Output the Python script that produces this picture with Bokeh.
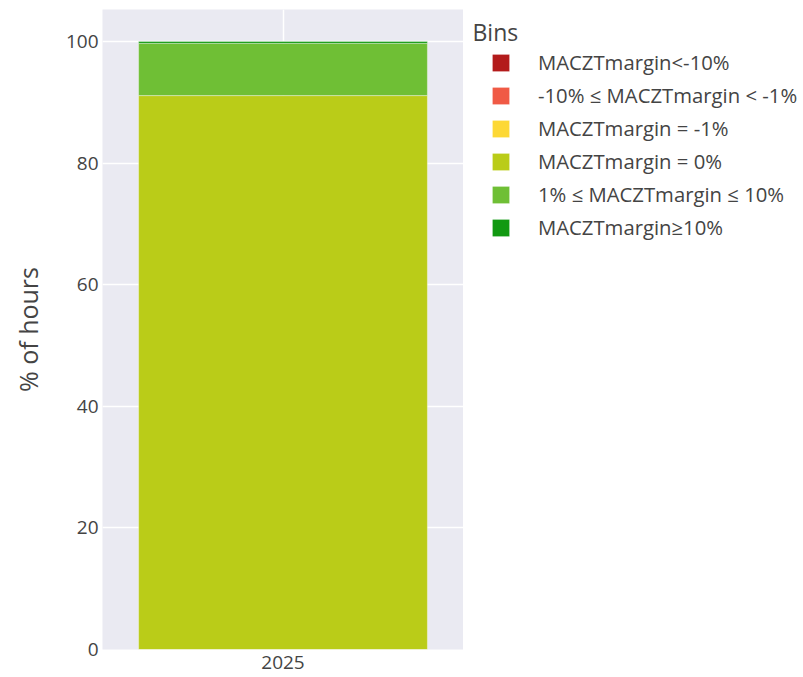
from bokeh.plotting import figure
from bokeh.layouts import row
from bokeh.models import Range1d, FactorRange, FixedTicker, Legend, LegendItem, Label
from bokeh.embed import file_html
from bokeh.resources import INLINE

years = ["2025"]
bins = [
    "MACZTmargin<-10%",
    "-10% ≤ MACZTmargin < -1%",
    "MACZTmargin = -1%",
    "MACZTmargin = 0%",
    "1% ≤ MACZTmargin ≤ 10%",
    "MACZTmargin≥10%",
]
values = [0.0, 0.0, 0.0, 91.1, 8.6, 0.3]
colors = ["#B31B1B", "#F05A45", "#FDD835", "#BACC18", "#6FBF35", "#119911"]
y_ticks = [0, 20, 40, 60, 80, 100]

FONT = "Open Sans"
TXT = "#444444"
H = 676

data = {"year": years}
keys = []
for i, v in enumerate(values):
    k = f"b{i}"
    keys.append(k)
    data[k] = [v]

p = figure(
    x_range=FactorRange(*years, range_padding=0),
    y_range=Range1d(0, 105.26),
    width=463, height=H,
    min_border_left=102, min_border_top=9, min_border_right=0, min_border_bottom=27,
    output_backend="svg", toolbar_location=None,
    background_fill_color="#EAEAF2", border_fill_color="white",
)
p.outline_line_color = None

renderers = p.vbar_stack(keys, x="year", width=0.8, source=data, color=colors,
                         line_color="white", line_width=0.6, line_alpha=0.6)

p.grid.grid_line_color = "white"
p.grid.grid_line_width = 1.5
p.yaxis.ticker = FixedTicker(ticks=y_ticks)
for ax in [p.xaxis[0], p.yaxis[0]]:
    ax.axis_line_color = None
    ax.major_tick_line_color = None
    ax.minor_tick_line_color = None
    ax.major_tick_out = 0
    ax.major_tick_in = 0
    ax.minor_tick_out = 0
    ax.major_label_text_font = FONT
    ax.major_label_text_font_size = "19px"
    ax.major_label_text_color = TXT
p.yaxis.major_label_standoff = 4
p.xaxis.major_label_standoff = 6
p.yaxis.axis_label = "% of hours"
p.yaxis.axis_label_text_font = FONT
p.yaxis.axis_label_text_font_size = "25px"
p.yaxis.axis_label_text_font_style = "normal"
p.yaxis.axis_label_text_color = TXT
p.yaxis.axis_label_standoff = 18

# legend panel
p2 = figure(
    width=339, height=H,
    x_range=FactorRange(*years), y_range=Range1d(1, 2),
    x_axis_location=None, y_axis_location=None,
    min_border=0, output_backend="svg", toolbar_location=None,
    background_fill_color="white", border_fill_color="white",
)
p2.outline_line_color = None
p2.grid.visible = False
nan = float("nan")
dummy = {"year": years, **{k: [nan] for k in keys}}
leg_renderers = p2.vbar_stack(keys, x="year", width=0.8, source=dummy, color=colors,
                              line_color=None)
items = [LegendItem(label=b, renderers=[r]) for b, r in zip(bins, leg_renderers)]
legend = Legend(items=items, location=(27, 408),
                glyph_width=21, glyph_height=21, label_height=28, spacing=5,
                label_standoff=27, padding=5, margin=0,
                label_text_font=FONT, label_text_font_size="20.3px", label_text_color=TXT,
                background_fill_alpha=0, border_line_color=None)
p2.add_layout(legend, "center")

title = Label(x=9, y=618, x_units="screen", y_units="screen", text="Bins",
              text_font=FONT, text_font_size="23px", text_color=TXT,
              text_baseline="alphabetic", text_align="left")
p2.add_layout(title)

layout = row(p, p2, spacing=0)
open("out.html", "w").write(file_html(layout, INLINE))
